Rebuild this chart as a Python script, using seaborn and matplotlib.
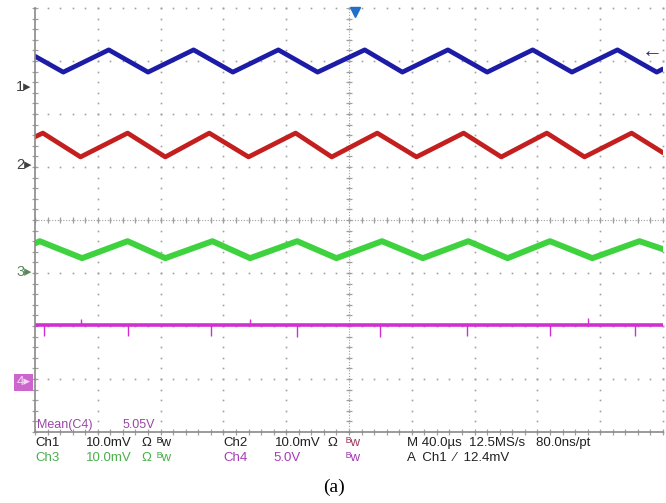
import numpy as np
import pandas as pd
import matplotlib
matplotlib.use("Agg")
import matplotlib.pyplot as plt
import seaborn as sns

sns.set_style("white")
plt.rcParams['font.family'] = ['Liberation Sans', 'DejaVu Sans']

# ---- data (time in µs, values in mV / V relative to channel marker) ----
ch1_t = [-200, -182, -153, -128, -99, -74, -45, -20, 10, 34, 63, 88, 117, 142, 171, 196, 200]
ch1_v = [5.8, 2.8, 7.0, 2.8, 7.0, 2.8, 7.0, 2.8, 7.0, 2.8, 7.0, 2.8, 7.0, 2.8, 7.0, 2.8, 3.4]

ch2_t = [-200, -195, -171, -141, -117, -89, -64, -34, -11, 18, 43, 73, 97, 126, 150, 180, 200]
ch2_v = [5.3, 6.0, 1.5, 6.0, 1.5, 6.0, 1.5, 6.0, 1.5, 6.0, 1.5, 6.0, 1.5, 6.0, 1.5, 6.0, 2.3]

ch3_t = [-200, -197, -170, -141, -117, -87, -63, -33, -8, 21, 47, 76, 101, 128, 155, 185, 200]
ch3_v = [5.4, 5.8, 2.6, 5.8, 2.6, 5.8, 2.6, 5.8, 2.6, 5.8, 2.6, 5.8, 2.6, 5.8, 2.6, 5.8, 4.3]

ch4_t = [-200, 200]
ch4_v = [5.4, 5.4]
ch4_spike_down_t = [-194, -141, -88, -33, 20, 75, 128, 182]
ch4_spike_down_v = [4.4, 4.4, 4.4, 4.3, 4.3, 4.4, 4.4, 4.4]
ch4_spike_up_t = [-171, -63, 152]
ch4_spike_up_v = [6.0, 6.0, 6.1]

# channel settings: (marker position in div, scale per div)
ch_pos = {"1": 2.51, "2": 1.04, "3": -0.98, "4": -3.06}
ch_scale = {"1": 10.0, "2": 10.0, "3": 10.0, "4": 5.0}
ch_color = {"1": "#1c1ca6", "2": "#c41f1f", "3": "#3fd23f", "4": "#d22ed2"}

US_PER_DIV = 40.0

fig = plt.figure(figsize=(6.66, 5.03), dpi=100)
ax = fig.add_axes([35/666, 71/503, 628/666, 424/503])
ax.set_xlim(-200, 200)
ax.set_ylim(-4, 4)
ax.set_xticks([]); ax.set_yticks([])
for s in ["top", "right"]:
    ax.spines[s].set_visible(False)
for s in ["left", "bottom"]:
    ax.spines[s].set_color("#8a8a8a")
    ax.spines[s].set_linewidth(1.2)

gcol = "#a0a0a0"
# graticule dots
fine_y = np.arange(-4, 4.001, 0.2)
fine_x = np.arange(-200, 200.001, US_PER_DIV * 0.2)
for k in range(-4, 6):
    xk = k * US_PER_DIV
    ax.plot(np.full_like(fine_y, xk), fine_y, ls="none", marker="s", ms=1.2,
            color=gcol, mew=0, clip_on=False)
for k in range(-3, 5):
    ax.plot(fine_x, np.full_like(fine_x, k), ls="none", marker="s", ms=1.2,
            color=gcol, mew=0, clip_on=False)
# center cross with tick marks
ax.plot([0, 0], [-4, 4], ls=(0, (1, 1.5)), color=gcol, lw=0.8)
ax.plot([-200, 200], [0, 0], ls=(0, (1, 1.5)), color=gcol, lw=0.8)
ax.plot(np.zeros_like(fine_y), fine_y, ls="none", marker="_", ms=5, color=gcol, mew=0.9)
ax.plot(fine_x, np.zeros_like(fine_x), ls="none", marker="|", ms=5, color=gcol, mew=0.9)
# ticks on bottom and left borders
ax.plot(fine_x, np.full_like(fine_x, -4), ls="none", marker="|", ms=4, color=gcol, mew=0.9, clip_on=False)
ax.plot(np.full_like(fine_y, -200), fine_y, ls="none", marker="_", ms=4, color=gcol, mew=0.9, clip_on=False)

# traces
def trace(t, v, ch, lw):
    df = pd.DataFrame({"t": t, "y": ch_pos[ch] + np.asarray(v) / ch_scale[ch]})
    sns.lineplot(data=df, x="t", y="y", ax=ax, color=ch_color[ch], lw=lw,
                 estimator=None, sort=False, legend=False)

trace(ch1_t, ch1_v, "1", 3.4)
trace(ch2_t, ch2_v, "2", 3.4)
trace(ch3_t, ch3_v, "3", 4.3)
trace(ch4_t, ch4_v, "4", 2.6)
base4 = ch_pos["4"] + ch4_v[0] / ch_scale["4"]
ax.vlines(ch4_spike_down_t, base4, ch_pos["4"] + np.asarray(ch4_spike_down_v) / ch_scale["4"],
          color=ch_color["4"], lw=1.0)
ax.vlines(ch4_spike_up_t, base4, ch_pos["4"] + np.asarray(ch4_spike_up_v) / ch_scale["4"],
          color=ch_color["4"], lw=1.0)
ax.set_xlabel(""); ax.set_ylabel("")

# channel markers on the left
for ch, col in [("1", "#404040"), ("2", "#404040"), ("3", "#5a8a5a")]:
    ax.text(-202, ch_pos[ch], ch + "\u25b8", ha="right", va="center", fontsize=10.5,
            color=col, clip_on=False)
ax.text(-203, ch_pos["4"], "4\u25b8", ha="right", va="center", fontsize=9.5,
        color="#f6d6f6", clip_on=False,
        bbox=dict(boxstyle="square,pad=0.2", fc="#cc66cc", ec="none"))

# trigger markers
ax.plot([4], [3.93], marker="v", ms=7.5, color="#1e70c8", clip_on=False)
ax.text(200, 3.17, "\u2190", ha="right", va="center", fontsize=15, color="#303060")

# measurement
ax.text(-199, -3.87, "Mean(C4)", ha="left", va="center", fontsize=9, color="#9a45a8")
ax.text(-144, -3.87, "5.05V", ha="left", va="center", fontsize=9, color="#9a45a8")

# status lines below the screen
def ftxt(px, py, s, col, **kw):
    fig.text(px / 666, 1 - py / 503, s, ha="left", va="center", fontsize=9.5, color=col, **kw)

k = "#202020"; g = "#4cae4c"; p = "#a43cb4"
BW = "\u1d2ew"
ftxt(35, 443, "Ch1", k); ftxt(86, 443, "10.0mV", k); ftxt(141, 443, "\u03a9", k); ftxt(157, 443, BW, k)
ftxt(223, 443, "Ch2", k); ftxt(275, 443, "10.0mV", k); ftxt(327, 443, "\u03a9", k); ftxt(346, 443, BW, "#a03a60")
ftxt(407, 443, "M 40.0\u00b5s  12.5MS/s   80.0ns/pt", k)
ftxt(35, 458, "Ch3", g); ftxt(86, 458, "10.0mV", g); ftxt(141, 458, "\u03a9", g); ftxt(157, 458, BW, g)
ftxt(223, 458, "Ch4", p); ftxt(273, 458, "5.0V", p); ftxt(346, 458, BW, p)
ftxt(407, 458, "A  Ch1  \u2044  12.4mV", k)

fig.text(334 / 666, 1 - 487 / 503, "(a)", ha="center", va="center", fontsize=14,
         family=["Liberation Serif", "DejaVu Serif"], color="black")

fig.savefig("out.png", dpi=100)
